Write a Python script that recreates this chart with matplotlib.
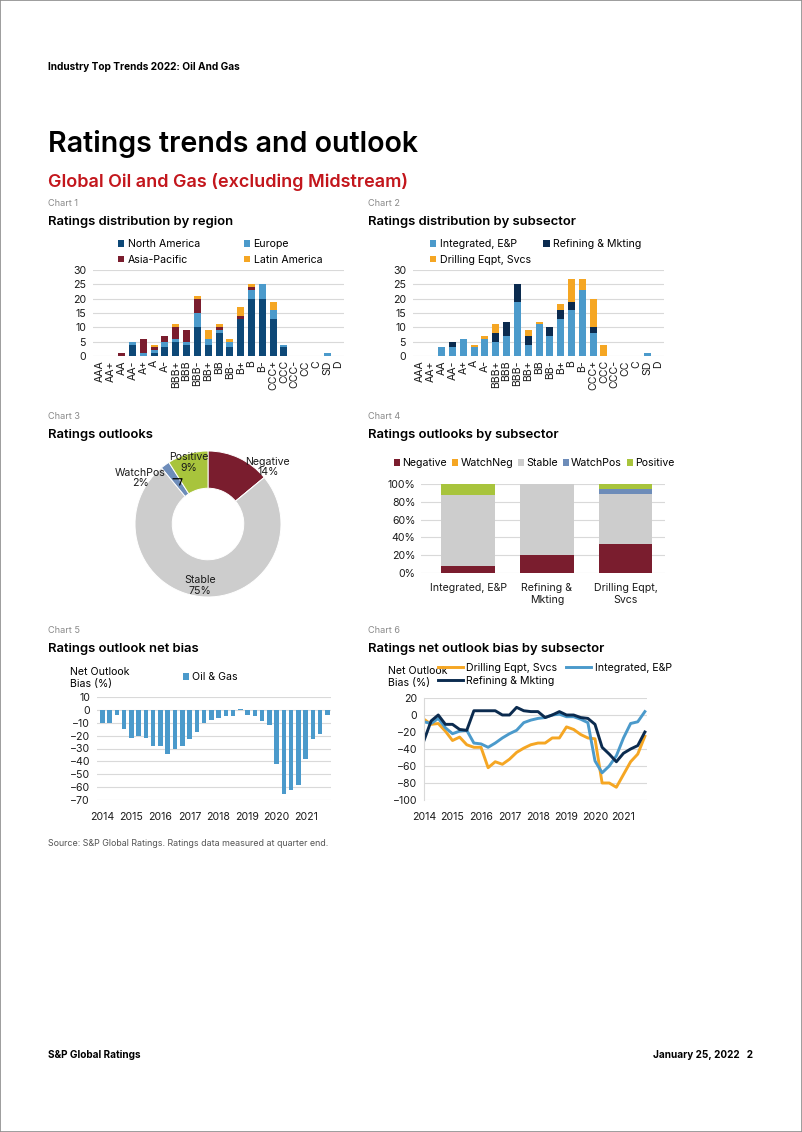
import numpy as np
import matplotlib
matplotlib.use("Agg")
import matplotlib.pyplot as plt
from matplotlib.patches import Rectangle

plt.rcParams['font.family'] = ['Inter', 'DejaVu Sans']

# ---- data ----
ratings = ["AAA", "AA+", "AA", "AA-", "A+", "A", "A-", "BBB+", "BBB", "BBB-", "BB+", "BB",
           "BB-", "B+", "B", "B-", "CCC+", "CCC", "CCC-", "CC", "C", "SD", "D"]

# chart 1: by region
north_america = [0, 0, 0, 4, 0, 1, 3, 5, 4, 10, 4, 8, 3, 13, 20, 20, 13, 3, 0, 0, 0, 0, 0]
europe = [0, 0, 0, 1, 1, 1, 2, 1, 1, 5, 2, 1, 2, 0, 3, 5, 3, 1, 0, 0, 0, 1, 0]
asia_pacific = [0, 0, 1, 0, 5, 1, 2, 4, 4, 5, 0, 1, 0, 1, 1, 0, 0, 0, 0, 0, 0, 0, 0]
latin_america = [0, 0, 0, 0, 0, 1, 0, 1, 0, 1, 3, 1, 1, 3, 1, 0, 3, 0, 0, 0, 0, 0, 0]

# chart 2: by subsector
integrated = [0, 0, 3, 3, 6, 3, 6, 5, 7, 19, 4, 11, 7, 13, 16, 23, 8, 0, 0, 0, 0, 1, 0]
refining = [0, 0, 0, 2, 0, 0, 0, 3, 5, 6, 3, 0, 3, 3, 3, 0, 2, 0, 0, 0, 0, 0, 0]
drilling = [0, 0, 0, 0, 0, 1, 1, 3, 0, 0, 2, 1, 0, 2, 8, 4, 10, 4, 0, 0, 0, 0, 0]

# chart 3: outlooks (%)
outlooks = ["Negative", "WatchNeg", "Stable", "WatchPos", "Positive"]
outlook_share = [14, 0, 75, 2, 9]

# chart 4: outlooks by subsector (%)
subsectors = ["Integrated, E&P", "Refining &\nMkting", "Drilling Eqpt,\nSvcs"]
sub_negative = [8, 20, 33]
sub_watchneg = [0, 0, 0]
sub_stable = [80, 80, 56]
sub_watchpos = [0, 0, 5]
sub_positive = [12, 0, 6]

# chart 5 / 6: quarterly net outlook bias, 2014Q1 - 2021Q4
years = ["2014", "2015", "2016", "2017", "2018", "2019", "2020", "2021"]
oil_gas_bias = [-10, -10, -4, -15, -22, -20, -22, -28, -28, -34, -30, -28, -23, -17, -10, -8,
                -6, -5, -5, 1, -4, -5, -9, -12, -42, -65, -62, -58, -38, -23, -19, -4]
drilling_bias = [-5, -11, -10, -19, -30, -26, -35, -38, -38, -62, -55, -58, -52, -44, -39, -35,
                 -33, -33, -27, -27, -14, -17, -23, -27, -28, -80, -80, -85, -70, -55, -46, -25]
integrated_bias = [-8, -10, -4, -15, -22, -19, -18, -33, -34, -38, -33, -27, -22, -18, -9, -6,
                   -4, -3, 0, 1, -2, -2, -5, -9, -54, -68, -60, -48, -27, -10, -8, 4]
refining_bias = [-30, -7, 0, -11, -11, -17, -18, 5, 5, 5, 5, 0, 0, 9, 5, 4,
                 4, -3, 0, 4, 0, 0, -3, -4, -11, -38, -46, -55, -45, -40, -36, -20]

# colours
C_NAVY = "#0B2B4F"
C_DBLUE = "#0D4877"
C_LBLUE = "#4B9ACB"
C_RED = "#7A1D2E"
C_ORANGE = "#F5A623"
C_GREY = "#CDCDCD"
C_WPOS = "#6D8CB9"
C_POS = "#A8C43C"
GRID = "#D9D9D9"
FS = 7.6

W, H = 802, 1132
fig = plt.figure(figsize=(W / 100, H / 100), dpi=100)
fig.patches.append(Rectangle((0, 0), 1, 1, transform=fig.transFigure, fill=False,
                             edgecolor="#8C8C8C", lw=1.2))


def px_axes(x0, y0, x1, y1):
    return fig.add_axes([x0 / W, 1 - y1 / H, (x1 - x0) / W, (y1 - y0) / H])


def txt(x, y, s, **kw):
    kw.setdefault("va", "baseline")
    fig.text(x / W, 1 - y / H, s, **kw)


def fpos(x, y):
    return (x / W, 1 - y / H)


def style(ax, pad=5):
    for s in ax.spines.values():
        s.set_visible(False)
    ax.tick_params(length=0, labelsize=FS, colors="#1A1A1A", pad=pad)
    ax.yaxis.grid(True, color=GRID, lw=0.8)
    ax.set_axisbelow(True)


# ---- page text ----
txt(48, 70, "Industry Top Trends 2022: Oil And Gas", fontsize=7.3, fontweight="bold")
txt(48, 152, "Ratings trends and outlook", fontsize=20.6, fontweight="semibold")
txt(48, 187, "Global Oil and Gas (excluding Midstream)", fontsize=13.0, color="#C3161C",
    fontweight="semibold")
for cx, cy, lab, title in [(48, 206, "Chart 1", "Ratings distribution by region"),
                           (368, 206, "Chart 2", "Ratings distribution by subsector"),
                           (48, 419, "Chart 3", "Ratings outlooks"),
                           (368, 419, "Chart 4", "Ratings outlooks by subsector"),
                           (48, 633, "Chart 5", "Ratings outlook net bias"),
                           (368, 633, "Chart 6", "Ratings net outlook bias by subsector")]:
    txt(cx, cy, lab, fontsize=6.6, color="#8A8A8A")
    txt(cx, cy + 19, title, fontsize=9.4, fontweight="semibold")
txt(48, 846, "Source: S&P Global Ratings. Ratings data measured at quarter end.",
    fontsize=6.4, color="#555555")
txt(48, 1058, "S&P Global Ratings", fontsize=7.2, fontweight="bold")
txt(753, 1058, "January 25, 2022   2", fontsize=7.2, fontweight="bold", ha="right")

x = np.arange(len(ratings))

# ---- chart 1 ----
ax1 = px_axes(93, 270, 344, 356)
style(ax1)
b = np.zeros(len(ratings))
bars1 = []
for vals, col in [(north_america, C_DBLUE), (europe, C_LBLUE),
                  (asia_pacific, C_RED), (latin_america, C_ORANGE)]:
    bars1.append(ax1.bar(x, vals, bottom=b, width=0.65, color=col))
    b = b + np.array(vals)
ax1.set_xlim(-0.65, 22.55)
ax1.set_ylim(0, 30)
ax1.set_yticks(range(0, 31, 5))
ax1.set_xticks(x)
ax1.set_xticklabels(ratings, rotation=90)
ax1.tick_params(axis="x", pad=3)
fig.legend([bars1[0], bars1[2], bars1[1], bars1[3]],
           ["North America", "Asia-Pacific", "Europe", "Latin America"],
           loc="upper left", bbox_to_anchor=fpos(118, 239), ncol=2, frameon=False,
           fontsize=FS, handlelength=0.6, handleheight=0.6, handletextpad=0.3,
           columnspacing=4.2, labelspacing=0.55, borderpad=0, borderaxespad=0)

# ---- chart 2 ----
ax2 = px_axes(413, 270, 664, 356)
style(ax2)
b = np.zeros(len(ratings))
bars2 = []
for vals, col in [(integrated, C_LBLUE), (refining, C_NAVY), (drilling, C_ORANGE)]:
    bars2.append(ax2.bar(x, vals, bottom=b, width=0.65, color=col))
    b = b + np.array(vals)
ax2.set_xlim(-0.65, 22.55)
ax2.set_ylim(0, 30)
ax2.set_yticks(range(0, 31, 5))
ax2.set_xticks(x)
ax2.set_xticklabels(ratings, rotation=90)
ax2.tick_params(axis="x", pad=3)
fig.legend([bars2[0], bars2[2], bars2[1]],
           ["Integrated, E&P", "Drilling Eqpt, Svcs", "Refining & Mkting"],
           loc="upper left", bbox_to_anchor=fpos(430, 239), ncol=2, frameon=False,
           fontsize=FS, handlelength=0.6, handleheight=0.6, handletextpad=0.3,
           columnspacing=1.2, labelspacing=0.55, borderpad=0, borderaxespad=0)

# ---- chart 3: donut ----
pie_cols = [C_RED, C_ORANGE, C_GREY, C_WPOS, C_POS]
ax3 = px_axes(135, 451, 281, 597)
wedges, _ = ax3.pie(outlook_share, colors=pie_cols, startangle=90, counterclock=False,
                    radius=1, wedgeprops=dict(width=0.51, edgecolor="white", linewidth=0.7))
ax3.set_xlim(-1, 1)
ax3.set_ylim(-1, 1)
lab_pos = {"Negative": (0.82, 0.78), "Stable": (-0.11, -0.84),
           "WatchPos": (-0.93, 0.63), "Positive": (-0.26, 0.84)}
for name, share in zip(outlooks, outlook_share):
    if name in lab_pos:
        ax3.text(*lab_pos[name], f"{name}\n{share}%", ha="center", va="center",
                 fontsize=FS, color="#1A1A1A", linespacing=1.1, clip_on=False)
w = wedges[outlooks.index("WatchPos")]
mid = np.deg2rad((w.theta1 + w.theta2) / 2)
ax3.annotate("", xy=(0.66 * np.cos(mid), 0.66 * np.sin(mid)), xytext=(-0.48, 0.62),
             arrowprops=dict(arrowstyle="-", lw=0.9, color="black", shrinkA=0, shrinkB=0,
                             connectionstyle="angle,angleA=0,angleB=70,rad=0"))

# ---- chart 4 ----
ax4 = px_axes(421, 484, 665, 573)
style(ax4, pad=4)
xs = np.arange(len(subsectors))
b = np.zeros(len(subsectors))
bars4 = []
for vals, col in [(sub_negative, C_RED), (sub_watchneg, C_ORANGE), (sub_stable, C_GREY),
                  (sub_watchpos, C_WPOS), (sub_positive, C_POS)]:
    bars4.append(ax4.bar(xs, vals, bottom=b, width=0.68, color=col))
    b = b + np.array(vals)
ax4.set_xlim(-0.6, 2.5)
ax4.set_ylim(0, 100)
ax4.set_yticks(range(0, 101, 20))
ax4.set_yticklabels([f"{v}%" for v in range(0, 101, 20)])
ax4.set_xticks(xs)
ax4.set_xticklabels(subsectors, linespacing=1.3)
ax4.tick_params(axis="x", pad=7)
fig.legend(bars4, outlooks, loc="upper left", bbox_to_anchor=fpos(394, 458), ncol=5,
           frameon=False, fontsize=FS, handlelength=0.6, handleheight=0.6,
           handletextpad=0.2, columnspacing=0.45, borderpad=0, borderaxespad=0)

# ---- chart 5 ----
q = np.arange(len(oil_gas_bias))
ax5 = px_axes(97, 697, 331, 800)
style(ax5)
bar5 = ax5.bar(q, oil_gas_bias, width=0.62, color=C_LBLUE)
ax5.set_xlim(-0.75, 31.5)
ax5.set_ylim(-70, 10)
ax5.set_yticks(range(-70, 11, 10))
ax5.set_xticks(q[::4])
ax5.set_xticklabels(years)
ax5.tick_params(axis="x", pad=9)
txt(70, 678, "Net Outlook\nBias (%)", fontsize=FS, va="center", linespacing=1.2)
fig.legend([bar5], ["Oil & Gas"], loc="center left", bbox_to_anchor=fpos(183, 677),
           frameon=False, fontsize=FS, handlelength=0.6, handleheight=0.6,
           handletextpad=0.3, borderpad=0, borderaxespad=0)

# ---- chart 6 ----
ax6 = px_axes(424, 698, 647, 800)
style(ax6)
ax6.spines["left"].set_visible(True)
ax6.spines["left"].set_color(GRID)
l_dr, = ax6.plot(q, drilling_bias, color=C_ORANGE, lw=2.1)
l_in, = ax6.plot(q, integrated_bias, color=C_LBLUE, lw=2.1)
l_rf, = ax6.plot(q, refining_bias, color=C_NAVY, lw=2.1)
ax6.set_xlim(0, 31.3)
ax6.set_ylim(-100, 20)
ax6.set_yticks(range(-100, 21, 20))
ax6.set_xticks(q[::4])
ax6.set_xticklabels(years)
ax6.tick_params(axis="x", pad=9)
txt(388, 677, "Net Outlook\nBias (%)", fontsize=FS, va="center", linespacing=1.2)
fig.legend([l_dr, l_rf, l_in], ["Drilling Eqpt, Svcs", "Refining & Mkting", "Integrated, E&P"],
           loc="upper left", bbox_to_anchor=fpos(438, 663), ncol=2, frameon=False,
           fontsize=FS, handlelength=2.4, handletextpad=0.3, columnspacing=0.8,
           labelspacing=0.3, borderpad=0, borderaxespad=0)

fig.savefig("out.png", dpi=100)
